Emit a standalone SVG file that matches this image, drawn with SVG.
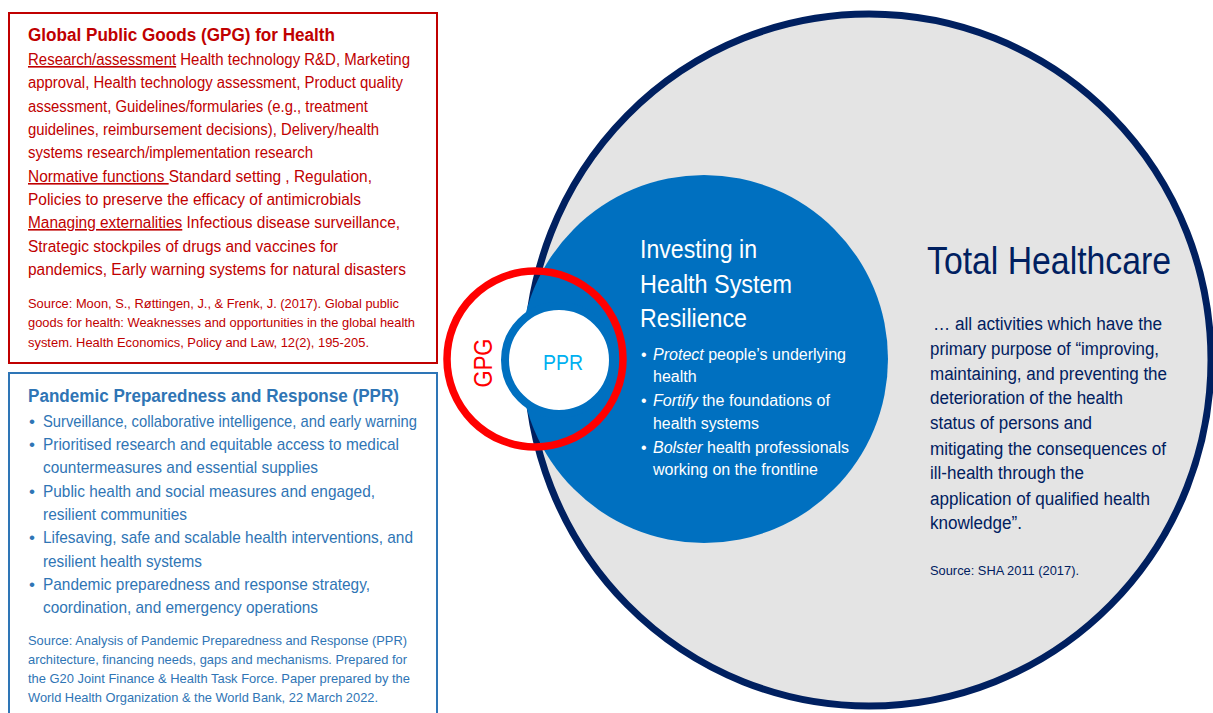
<svg xmlns="http://www.w3.org/2000/svg" width="1213" height="713" viewBox="0 0 1213 713">
<style>
text{font-family:"Liberation Sans",Arial,sans-serif;}
.gpg{fill:#C00000;font-size:16px;}
.gpgs{fill:#C00000;font-size:13px;}
.ppr{fill:#2F75B5;font-size:17px;}
.pprs{fill:#2F75B5;font-size:13px;}
.wh{fill:#FFFFFF;}
.nv{fill:#002060;}
.u{text-decoration:underline;}
.i{font-style:italic;}
</style>
<rect width="1213" height="713" fill="#FFFFFF"/>

<g id="total-healthcare">
<ellipse cx="869" cy="360" rx="342" ry="346" fill="#E4E4E4" stroke="#002060" stroke-width="7"/>
<text class="nv" x="927" y="274" font-size="39" textLength="244" lengthAdjust="spacingAndGlyphs">Total Healthcare</text>
<g class="nv" font-size="18">
<text x="933" y="330" textLength="229" lengthAdjust="spacingAndGlyphs">… all activities which have the</text>
<text x="930" y="355" textLength="229" lengthAdjust="spacingAndGlyphs">primary purpose of “improving,</text>
<text x="930" y="380" textLength="237" lengthAdjust="spacingAndGlyphs">maintaining, and preventing the</text>
<text x="930" y="404" textLength="193" lengthAdjust="spacingAndGlyphs">deterioration of the health</text>
<text x="930" y="429" textLength="162" lengthAdjust="spacingAndGlyphs">status of persons and</text>
<text x="930" y="455" textLength="236" lengthAdjust="spacingAndGlyphs">mitigating the consequences of</text>
<text x="930" y="479" textLength="154" lengthAdjust="spacingAndGlyphs">ill-health through the</text>
<text x="930" y="505" textLength="220" lengthAdjust="spacingAndGlyphs">application of qualified health</text>
<text x="930" y="529" textLength="92" lengthAdjust="spacingAndGlyphs">knowledge”.</text>
</g>
<text class="nv" x="930" y="575" font-size="13" textLength="149" lengthAdjust="spacingAndGlyphs">Source: SHA 2011 (2017).</text>
</g>

<g id="health-system-resilience">
<circle cx="704" cy="359" r="184" fill="#0070C0"/>
<g class="wh" font-size="26">
<text x="640" y="258" textLength="117" lengthAdjust="spacingAndGlyphs">Investing in</text>
<text x="640" y="293" textLength="152" lengthAdjust="spacingAndGlyphs">Health System</text>
<text x="640" y="327" textLength="107" lengthAdjust="spacingAndGlyphs">Resilience</text>
</g>
<g class="wh" font-size="16">
<text x="641" y="360">•</text>
<text x="653" y="360" textLength="193" lengthAdjust="spacingAndGlyphs"><tspan class="i">Protect</tspan> people’s underlying</text>
<text x="653" y="382">health</text>
<text x="641" y="406">•</text>
<text x="653" y="406" textLength="177" lengthAdjust="spacingAndGlyphs"><tspan class="i">Fortify</tspan> the foundations of</text>
<text x="653" y="429" textLength="106" lengthAdjust="spacingAndGlyphs">health systems</text>
<text x="641" y="453">•</text>
<text x="653" y="453" textLength="196" lengthAdjust="spacingAndGlyphs"><tspan class="i">Bolster</tspan> health professionals</text>
<text x="653" y="475" textLength="165" lengthAdjust="spacingAndGlyphs">working on the frontline</text>
</g>
</g>

<g id="ppr-circle">
<circle cx="559" cy="360" r="54" fill="#FFFFFF" stroke="#0070C0" stroke-width="8"/>
<text x="563" y="370" font-size="22" fill="#00B0F0" text-anchor="middle" textLength="40" lengthAdjust="spacingAndGlyphs">PPR</text>
</g>

<g id="gpg-ring">
<circle cx="535" cy="359" r="88" fill="none" stroke="#FF0000" stroke-width="7.5"/>
<text x="0" y="0" transform="translate(492,363) rotate(-90)" font-size="25" fill="#FF0000" text-anchor="middle" textLength="49" lengthAdjust="spacingAndGlyphs">GPG</text>
</g>

<g id="gpg-box">
<rect x="9" y="13" width="428" height="350" fill="#FFFFFF" stroke="#C00000" stroke-width="2"/>
<text x="28" y="41" font-size="18" font-weight="bold" fill="#C00000" textLength="307" lengthAdjust="spacingAndGlyphs">Global Public Goods (GPG) for Health</text>
<g class="gpg">
<text x="28" y="65" textLength="382" lengthAdjust="spacingAndGlyphs"><tspan class="u">Research/assessment</tspan> Health technology R&amp;D, Marketing</text>
<text x="28" y="88" textLength="375" lengthAdjust="spacingAndGlyphs">approval, Health technology assessment, Product quality</text>
<text x="28" y="112" textLength="340" lengthAdjust="spacingAndGlyphs">assessment, Guidelines/formularies (e.g., treatment</text>
<text x="28" y="135" textLength="351" lengthAdjust="spacingAndGlyphs">guidelines, reimbursement decisions), Delivery/health</text>
<text x="28" y="158" textLength="285" lengthAdjust="spacingAndGlyphs">systems research/implementation research</text>
<text x="28" y="182" textLength="344" lengthAdjust="spacingAndGlyphs"><tspan class="u">Normative functions </tspan>Standard setting , Regulation,</text>
<text x="28" y="205" textLength="333" lengthAdjust="spacingAndGlyphs">Policies to preserve the efficacy of antimicrobials</text>
<text x="28" y="228" textLength="372" lengthAdjust="spacingAndGlyphs"><tspan class="u">Managing externalities</tspan> Infectious disease surveillance,</text>
<text x="28" y="252" textLength="310" lengthAdjust="spacingAndGlyphs">Strategic stockpiles of drugs and vaccines for</text>
<text x="28" y="275" textLength="378" lengthAdjust="spacingAndGlyphs">pandemics, Early warning systems for natural disasters</text>
</g>
<g class="gpgs">
<text x="28" y="308" textLength="371" lengthAdjust="spacingAndGlyphs">Source: Moon, S., Røttingen, J., &amp; Frenk, J. (2017). Global public</text>
<text x="28" y="327" textLength="387" lengthAdjust="spacingAndGlyphs">goods for health: Weaknesses and opportunities in the global health</text>
<text x="28" y="347" textLength="341" lengthAdjust="spacingAndGlyphs">system. Health Economics, Policy and Law, 12(2), 195-205.</text>
</g>
</g>

<g id="ppr-box">
<rect x="9" y="373" width="428" height="345" fill="#FFFFFF" stroke="#2E75B6" stroke-width="2"/>
<text x="28" y="402" font-size="18" font-weight="bold" fill="#2F75B5" textLength="371" lengthAdjust="spacingAndGlyphs">Pandemic Preparedness and Response (PPR)</text>
<g class="ppr">
<text x="29" y="427">•</text>
<text x="43" y="427" textLength="374" lengthAdjust="spacingAndGlyphs">Surveillance, collaborative intelligence, and early warning</text>
<text x="29" y="450">•</text>
<text x="43" y="450" textLength="356" lengthAdjust="spacingAndGlyphs">Prioritised research and equitable access to medical</text>
<text x="43" y="473" textLength="275" lengthAdjust="spacingAndGlyphs">countermeasures and essential supplies</text>
<text x="29" y="497">•</text>
<text x="43" y="497" textLength="332" lengthAdjust="spacingAndGlyphs">Public health and social measures and engaged,</text>
<text x="43" y="520" textLength="144" lengthAdjust="spacingAndGlyphs">resilient communities</text>
<text x="29" y="543">•</text>
<text x="43" y="543" textLength="370" lengthAdjust="spacingAndGlyphs">Lifesaving, safe and scalable health interventions, and</text>
<text x="43" y="567" textLength="159" lengthAdjust="spacingAndGlyphs">resilient health systems</text>
<text x="29" y="590">•</text>
<text x="43" y="590" textLength="327" lengthAdjust="spacingAndGlyphs">Pandemic preparedness and response strategy,</text>
<text x="43" y="613" textLength="275" lengthAdjust="spacingAndGlyphs">coordination, and emergency operations</text>
</g>
<g class="pprs">
<text x="28" y="645" textLength="379" lengthAdjust="spacingAndGlyphs">Source: Analysis of Pandemic Preparedness and Response (PPR)</text>
<text x="28" y="664" textLength="379" lengthAdjust="spacingAndGlyphs">architecture, financing needs, gaps and mechanisms. Prepared for</text>
<text x="28" y="683" textLength="382" lengthAdjust="spacingAndGlyphs">the G20 Joint Finance &amp; Health Task Force. Paper prepared by the</text>
<text x="28" y="702" textLength="350" lengthAdjust="spacingAndGlyphs">World Health Organization &amp; the World Bank, 22 March 2022.</text>
</g>
</g>

<g id="connectors"></g>
</svg>
